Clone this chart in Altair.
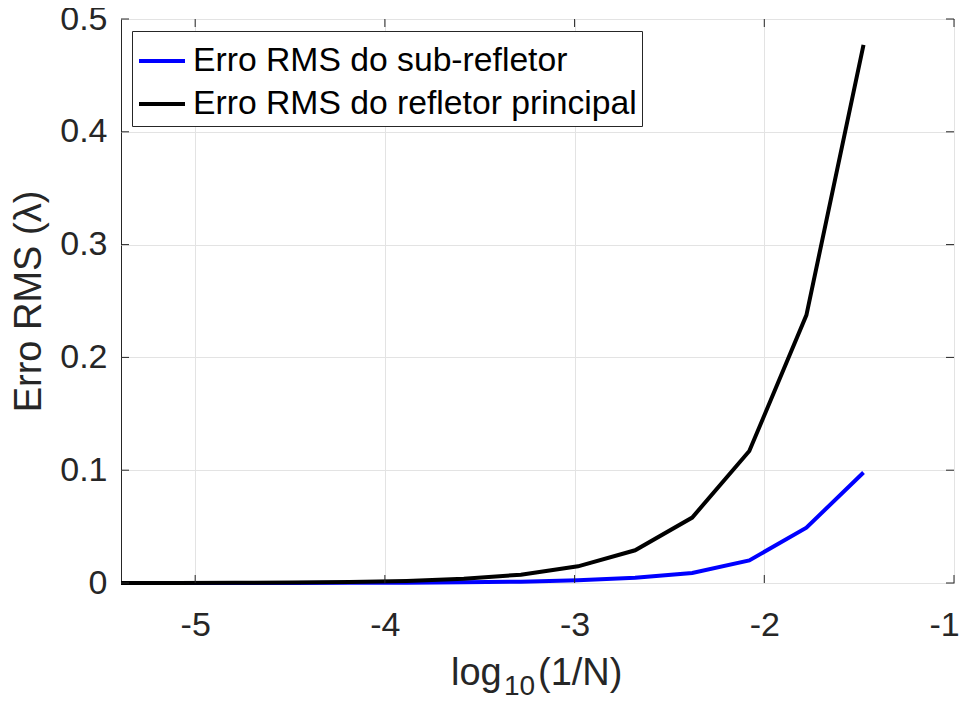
import altair as alt
import pandas as pd

# ---- data ----
x_vals = [-5.391, -5.089, -4.788, -4.487, -4.186, -3.885, -3.584, -3.283,
          -2.982, -2.681, -2.380, -2.079, -1.778, -1.477]
sub_err = [0.00001, 0.00002, 0.00004, 0.00008, 0.00015, 0.0003, 0.0006, 0.0012,
           0.0024, 0.0046, 0.0089, 0.020, 0.049, 0.098]
main_err = [0.00006, 0.00011, 0.00023, 0.00046, 0.0009, 0.0018, 0.0037, 0.0074,
            0.0148, 0.029, 0.058, 0.117, 0.2375, 0.477]
series_names = ["Erro RMS do sub-refletor", "Erro RMS do refletor principal"]
series_colors = ["#0000ff", "#000000"]
x_ticks = [-5, -4, -3, -2, -1]
y_ticks = [0, 0.1, 0.2, 0.3, 0.4, 0.5]

W, H = 833, 564
FONT = "Liberation Sans"
TXT = "#262626"

df = pd.DataFrame({
    "x": x_vals * 2,
    "y": sub_err + main_err,
    "serie": [series_names[0]] * len(x_vals) + [series_names[1]] * len(x_vals),
})

xs = alt.Scale(domain=[-5.391, -1], nice=False, zero=False)
ys = alt.Scale(domain=[0, 0.5], nice=False)
cs = alt.Scale(domain=series_names, range=series_colors)

xaxis = alt.Axis(values=x_ticks, title=None, grid=True, gridColor="#e3e3e3",
                 domain=False, ticks=False, labelFontSize=34, labelFont=FONT,
                 labelColor=TXT, labelPadding=25, labelFlush=False,
                 labelExpr="'' + datum.value",
                 labelOffset={"condition": {"test": "datum.value == -1", "value": -10}, "value": 0})
yaxis = alt.Axis(values=y_ticks, title="Erro RMS (λ)", grid=True, gridColor="#e3e3e3",
                 domain=False, ticks=False, labelFontSize=34, labelFont=FONT,
                 labelColor=TXT, labelPadding=14, titleFontSize=38, titleFont=FONT,
                 titleFontWeight="normal", titleColor=TXT, labelFlush=False,
                 labelExpr="datum.value == 0 ? '0' : format(datum.value, '.1f')",
                 titleX=-92, titleY=282, titleAngle=270, titleAlign="center",
                 titleBaseline="middle")

legend = alt.Legend(orient="none", legendX=11, legendY=12, title=None,
                    symbolType="stroke", symbolSize=2116, symbolStrokeWidth=4,
                    labelFontSize=33.7, labelFont=FONT, labelColor="#000000",
                    fillColor="white", strokeColor="#262626", padding=5,
                    rowPadding=1, labelOffset=6, labelLimit=0)

base = alt.Chart(df)
line_sub = base.transform_filter(alt.datum.serie == series_names[0]).mark_line(strokeWidth=4).encode(
    x=alt.X("x:Q", scale=xs, axis=xaxis),
    y=alt.Y("y:Q", scale=ys, axis=yaxis),
    color=alt.Color("serie:N", scale=cs, legend=legend),
)
line_main = base.transform_filter(alt.datum.serie == series_names[1]).mark_line(strokeWidth=4).encode(
    x=alt.X("x:Q", scale=xs),
    y=alt.Y("y:Q", scale=ys),
    color=alt.Color("serie:N", scale=cs, legend=legend),
)

xt = pd.DataFrame({"x": x_ticks})
yt = pd.DataFrame({"y": y_ticks})
tick_b = alt.Chart(xt).mark_rule(color=TXT, strokeWidth=1).encode(
    x=alt.X("x:Q", scale=xs), y=alt.value(H), y2=alt.value(H - 8))
tick_t = alt.Chart(xt).mark_rule(color=TXT, strokeWidth=1).encode(
    x=alt.X("x:Q", scale=xs), y=alt.value(0), y2=alt.value(8))
tick_l = alt.Chart(yt).mark_rule(color=TXT, strokeWidth=1).encode(
    y=alt.Y("y:Q", scale=ys), x=alt.value(0), x2=alt.value(8))
tick_r = alt.Chart(yt).mark_rule(color=TXT, strokeWidth=1).encode(
    y=alt.Y("y:Q", scale=ys), x=alt.value(W), x2=alt.value(W - 8))

# x-axis title with subscript: log_10(1/N)
t_log = alt.Chart(pd.DataFrame({"t": ["log"]})).mark_text(
    align="left", baseline="alphabetic", fontSize=38, font=FONT, color=TXT
).encode(text="t:N", x=alt.value(330), y=alt.value(666))
t_sub = alt.Chart(pd.DataFrame({"t": ["10"]})).mark_text(
    align="left", baseline="alphabetic", fontSize=28, font=FONT, color=TXT
).encode(text="t:N", x=alt.value(383), y=alt.value(676))
t_rest = alt.Chart(pd.DataFrame({"t": ["(1/N)"]})).mark_text(
    align="left", baseline="alphabetic", fontSize=38, font=FONT, color=TXT
).encode(text="t:N", x=alt.value(417), y=alt.value(666))

chart = alt.layer(
    line_sub, line_main, tick_b, tick_t, tick_l, tick_r, t_log, t_sub, t_rest
).properties(
    width=W, height=H,
    autosize=alt.AutoSizeParams(type="none"),
    padding={"left": 113, "top": 11, "right": 5, "bottom": 115},
    background="white",
).configure_view(stroke=TXT, strokeWidth=1)

chart.save("out.html", embed_options={"renderer": "svg", "actions": False})
